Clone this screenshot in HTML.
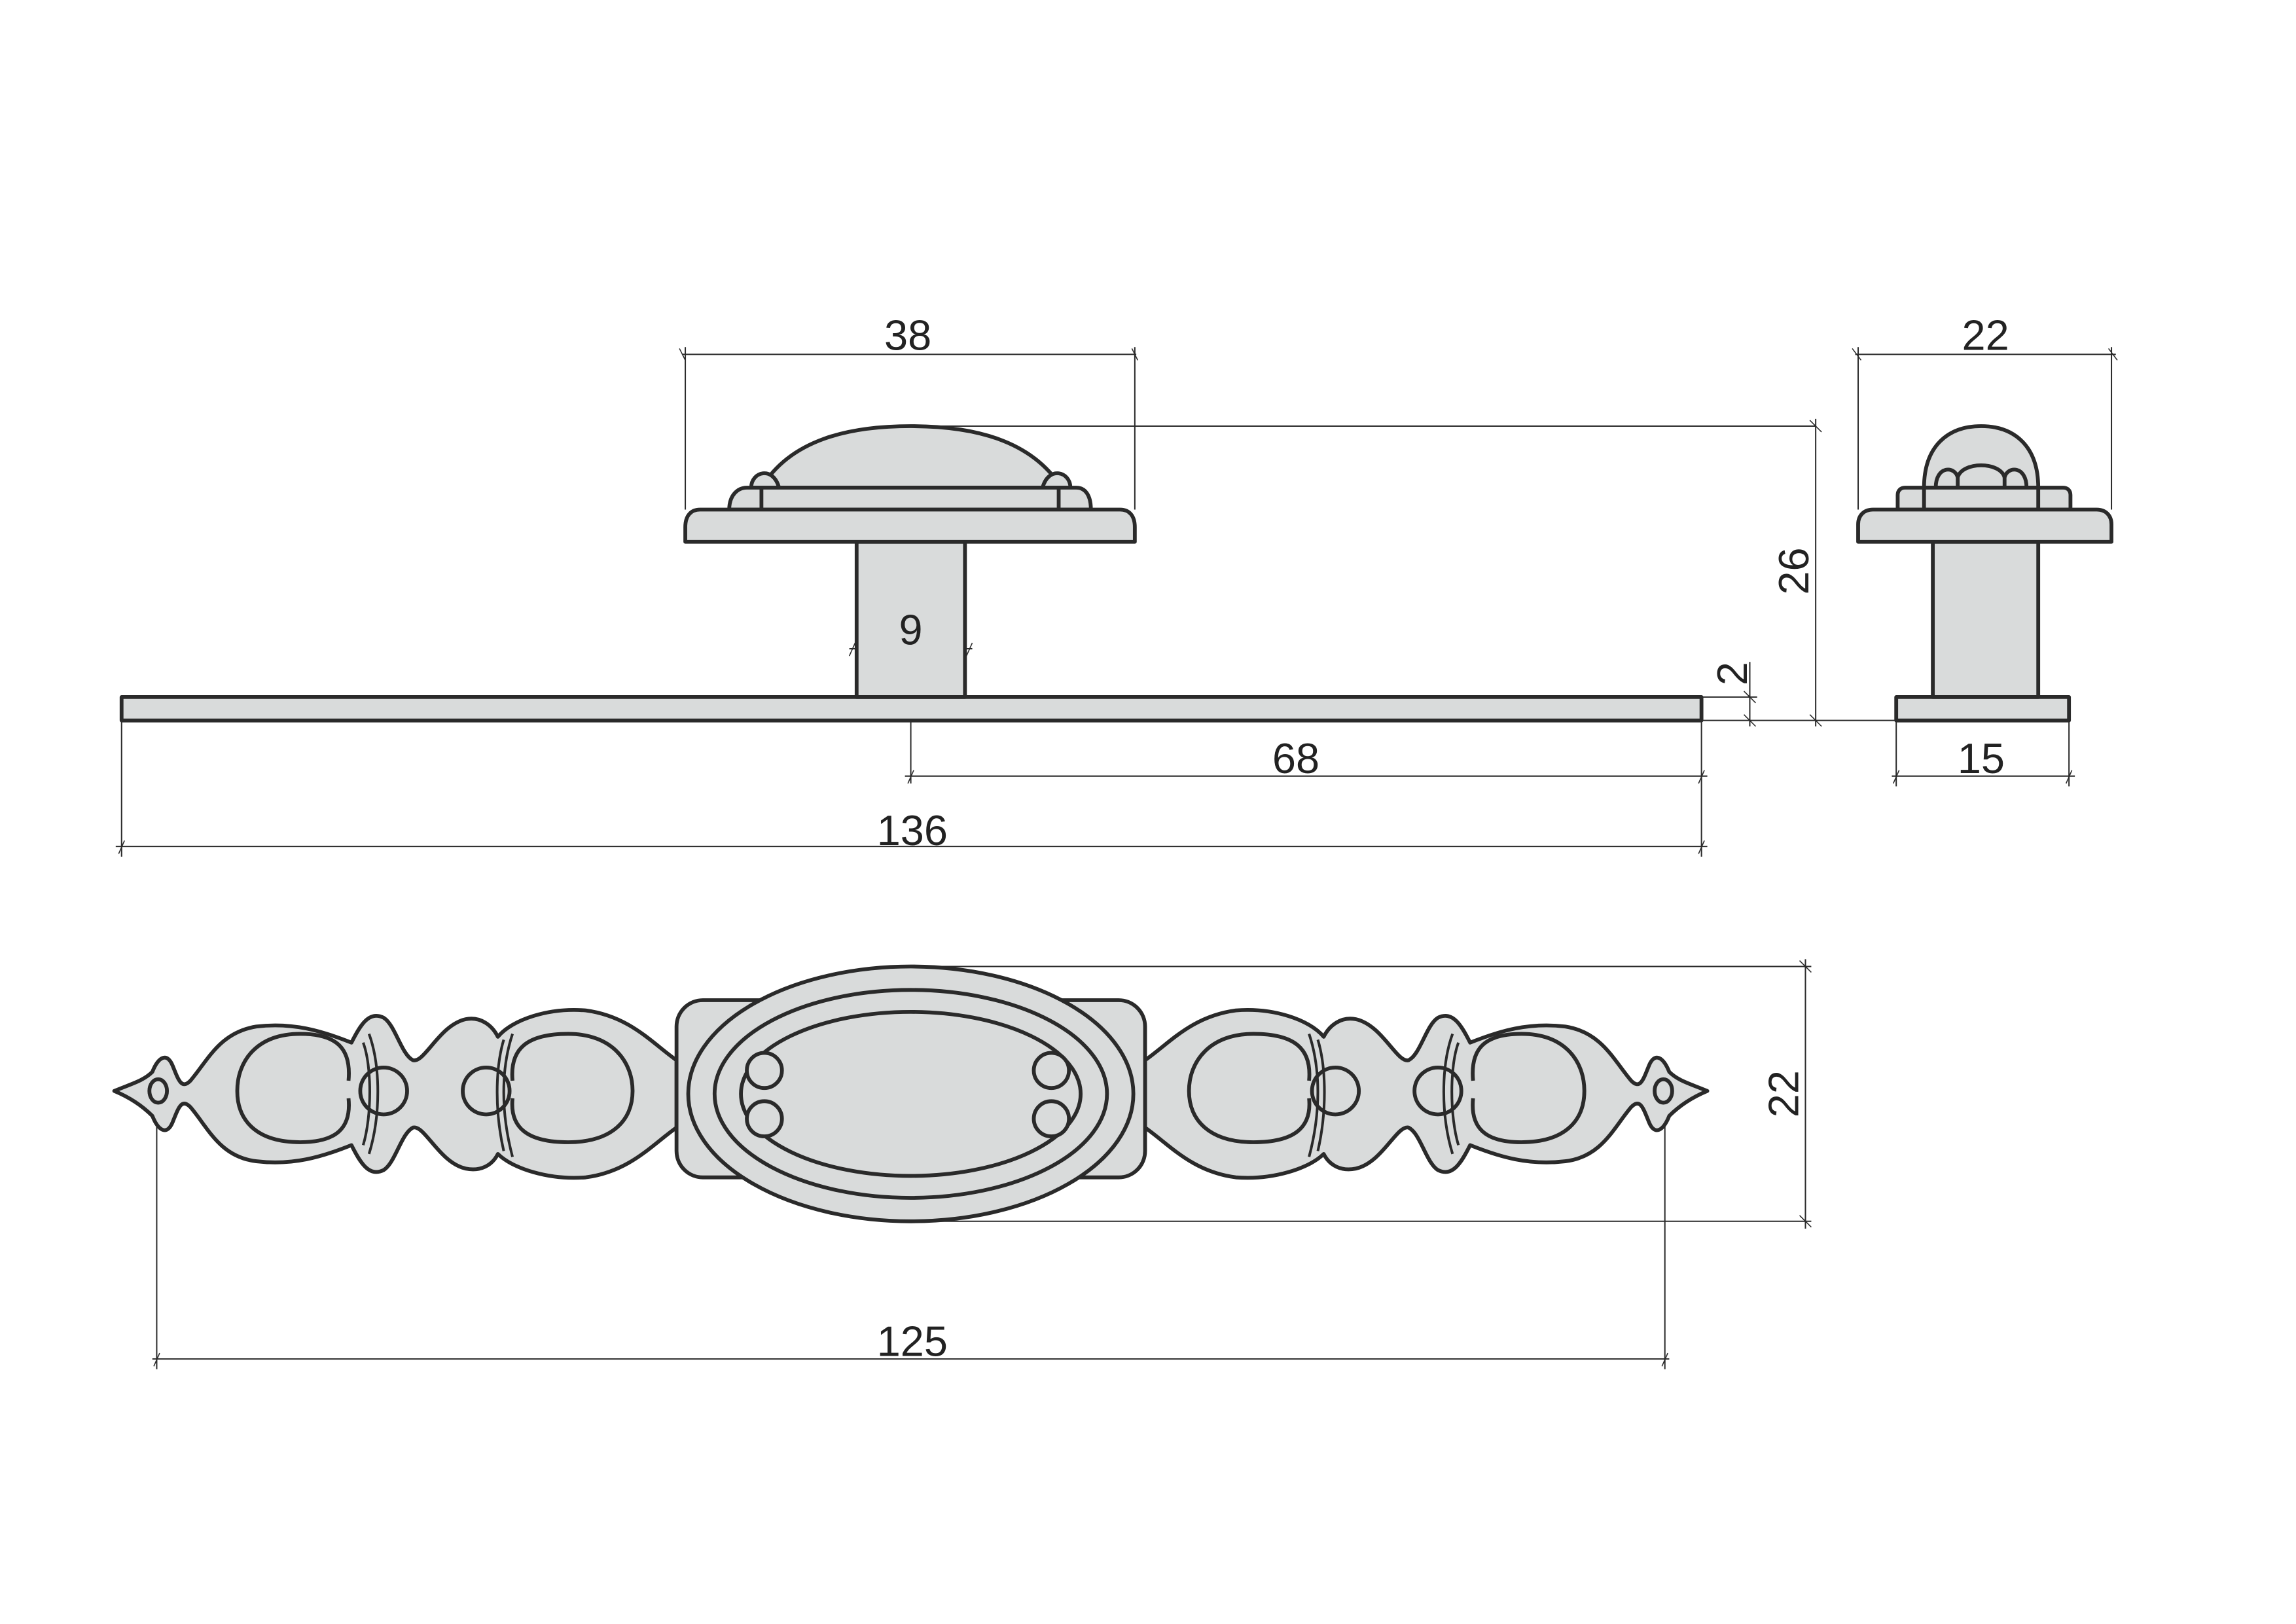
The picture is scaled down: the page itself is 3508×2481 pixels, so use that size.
<!DOCTYPE html>
<html><head><meta charset="utf-8"><style>
html,body{margin:0;padding:0;background:#fff}
svg{display:block}
text{font-family:"Liberation Sans",sans-serif;fill:#222}
</style></head><body>
<svg width="3508" height="2481" viewBox="0 0 1568 1109" xmlns="http://www.w3.org/2000/svg">
<g stroke="#2a2a2a" fill="none" stroke-width="0.9">
<line x1="466" y1="242" x2="776" y2="242"/>
<line x1="468" y1="237" x2="468" y2="348"/>
<line x1="775" y1="237" x2="775" y2="348"/>
<line x1="622" y1="291" x2="1240" y2="291"/>
<line x1="1240" y1="286" x2="1240" y2="496"/>
<line x1="1162" y1="476" x2="1200" y2="476"/>
<line x1="1162" y1="492" x2="1295" y2="492"/>
<line x1="1195" y1="452" x2="1195" y2="496"/>
<line x1="580" y1="443" x2="664" y2="443"/>
<line x1="622" y1="492" x2="622" y2="535"/>
<line x1="1162" y1="492" x2="1162" y2="585"/>
<line x1="83" y1="492" x2="83" y2="585"/>
<line x1="618" y1="530" x2="1166" y2="530"/>
<line x1="79" y1="578" x2="1166" y2="578"/>
<line x1="1267" y1="242" x2="1445" y2="242"/>
<line x1="1269" y1="237" x2="1269" y2="348"/>
<line x1="1442" y1="237" x2="1442" y2="348"/>
<line x1="1292" y1="530" x2="1417" y2="530"/>
<line x1="1295" y1="492" x2="1295" y2="537"/>
<line x1="1413" y1="492" x2="1413" y2="537"/>
<line x1="622" y1="660" x2="1237" y2="660"/>
<line x1="622" y1="834" x2="1237" y2="834"/>
<line x1="1233" y1="655" x2="1233" y2="839"/>
<line x1="107" y1="760" x2="107" y2="935"/>
<line x1="1137" y1="760" x2="1137" y2="935"/>
<line x1="104" y1="928" x2="1140" y2="928"/>
<g stroke-width="0.7">
<line x1="464" y1="238" x2="468" y2="246"/><line x1="773" y1="238" x2="777" y2="246"/>
<line x1="1265" y1="238" x2="1271" y2="246"/><line x1="1440" y1="238" x2="1446" y2="246"/>
<line x1="1236" y1="287" x2="1244" y2="295"/><line x1="1236" y1="488" x2="1244" y2="496"/>
<line x1="1191" y1="472" x2="1199" y2="480"/><line x1="1191" y1="488" x2="1199" y2="496"/>
<line x1="580" y1="448" x2="584" y2="439"/><line x1="660" y1="448" x2="664" y2="439"/>
<line x1="620" y1="535" x2="624" y2="526"/><line x1="1160" y1="535" x2="1164" y2="526"/>
<line x1="81" y1="583" x2="85" y2="574"/><line x1="1160" y1="583" x2="1164" y2="574"/>
<line x1="1293" y1="535" x2="1297" y2="526"/><line x1="1411" y1="535" x2="1415" y2="526"/>
<line x1="1229" y1="656" x2="1237" y2="664"/><line x1="1229" y1="830" x2="1237" y2="838"/>
<line x1="105" y1="933" x2="109" y2="924"/><line x1="1135" y1="933" x2="1139" y2="924"/>
</g>
</g>

<g fill="#d9dbdb" stroke="#2a2a2a" stroke-width="2.6" stroke-linejoin="round">
<rect x="83" y="476" width="1079" height="16"/>
<rect x="585" y="370" width="74" height="106"/>
<path d="M520,333 C540,300 580,291 622,291 C664,291 704,300 725,333 Z"/>
<path d="M513,333 C513,322 528,318 532,333 Z"/>
<path d="M712,333 C716,318 731,322 731,333 Z"/>
<path d="M498,348 C498,338 504,333 510,333 L735,333 C741,333 745,338 745,348 Z"/>
<line x1="520" y1="333" x2="520" y2="348"/><line x1="723" y1="333" x2="723" y2="348"/>
<path d="M468,370 L468,360 C468,352 472,348 478,348 L765,348 C771,348 775,352 775,360 L775,370 Z"/>
<rect x="1295" y="476" width="118" height="16"/>
<rect x="1320" y="370" width="72" height="106"/>
<path d="M1314,333 C1314,305 1330,291 1353,291 C1376,291 1392,305 1392,333 Z"/>
<path d="M1322,333 C1322,318 1335,318 1337,326 C1340,315 1366,315 1369,326 C1371,318 1384,318 1384,333" fill="none"/>
<path d="M1337,326 L1337,333 M1369,326 L1369,333" fill="none"/>
<path d="M1296,348 L1296,338 C1296,335 1298,333 1301,333 L1409,333 C1412,333 1414,335 1414,338 L1414,348 Z"/>
<line x1="1314" y1="333" x2="1314" y2="348"/><line x1="1392" y1="333" x2="1392" y2="348"/>
<path d="M1269,370 L1269,358 C1269,352 1273,348 1279,348 L1432,348 C1438,348 1442,352 1442,358 L1442,370 Z"/>

<g id="half">
<path d="M78,745 C90,740 98,738 104,732 C108,722 114,718 118,728 C122,738 124,744 130,738 C142,724 150,705 175,701 C200,698 220,704 240,712 C246,700 252,690 262,695 C270,700 274,720 282,724 C290,726 300,700 318,696 C328,694 336,700 340,708 C350,696 375,688 400,690 C430,694 445,712 462,724 L462,770 C445,782 430,800 400,804 C375,806 350,798 340,788 C336,796 328,800 318,798 C300,794 290,768 282,770 C274,774 270,794 262,799 C252,804 246,794 240,782 C220,790 200,796 175,793 C150,790 142,770 130,756 C124,750 122,756 118,766 C114,776 108,772 104,762 C98,756 90,750 78,745 Z"/>
<ellipse cx="108" cy="745" rx="6" ry="8"/>
<path d="M238,738 C240,716 230,706 205,706 C175,706 162,725 162,745 C162,765 175,780 205,780 C230,780 240,770 238,750" fill="none"/>
<circle cx="262" cy="745" r="16"/>
<path d="M248,712 C254,728 254,762 248,782 M252,706 C260,728 260,762 252,788" fill="none" stroke-width="1.8"/>
<circle cx="332" cy="745" r="16"/>
<path d="M344,710 C338,730 338,760 344,786 M350,706 C342,730 342,760 350,790" fill="none" stroke-width="1.8"/>
<path d="M350,738 C348,716 360,706 388,706 C418,706 432,725 432,745 C432,765 418,780 388,780 C360,780 348,770 350,750" fill="none"/>
</g>
<use href="#half" transform="translate(1244,0) scale(-1,1)"/>
<rect x="462" y="683" width="320" height="121" rx="18"/>
<ellipse cx="622" cy="747" rx="152" ry="87"/>
<ellipse cx="622" cy="747" rx="134" ry="71"/>
<ellipse cx="622" cy="747" rx="116" ry="56" fill="none"/>
<circle cx="522" cy="731" r="12"/><circle cx="522" cy="764" r="12"/>
<circle cx="718" cy="731" r="12"/><circle cx="718" cy="764" r="12"/>
</g>

<g font-size="29" text-anchor="middle">
<text x="620" y="239">38</text>
<text x="1356" y="239">22</text>
<text x="622" y="440">9</text>
<text x="885" y="528">68</text>
<text x="1353" y="528">15</text>
<text x="623" y="577">136</text>
<text x="623" y="926">125</text>
<text transform="translate(1235,390) rotate(-90)">26</text>
<text transform="translate(1193,460) rotate(-90)">2</text>
<text transform="translate(1228,747) rotate(-90)">22</text>
</g>
</svg>
</body></html>
